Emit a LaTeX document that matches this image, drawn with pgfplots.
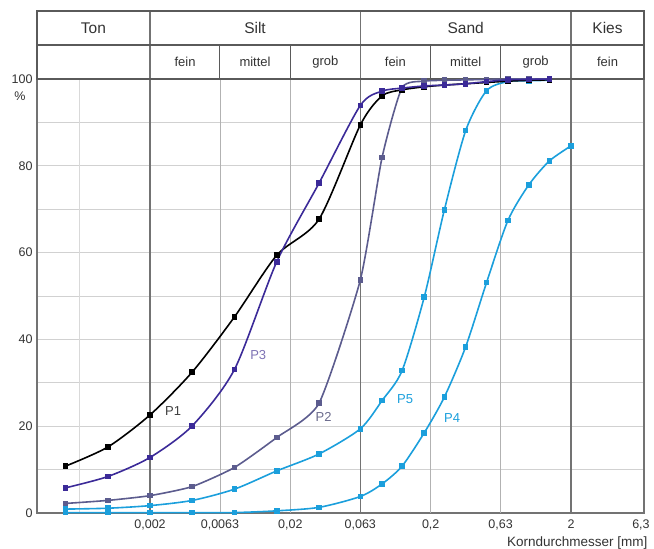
\documentclass[border=0pt]{standalone}
\usepackage{pgfplots}
\pgfplotsset{compat=1.18}
\usepackage{fontspec}
\setmainfont{Liberation Sans}
\definecolor{cPthree}{HTML}{3B2A98}
\definecolor{cPtwo}{HTML}{5C5C8E}
\definecolor{cPblue}{HTML}{1B9FDC}
\definecolor{lPthree}{HTML}{7D72B4}
\definecolor{lPtwo}{HTML}{6A6A8C}
\definecolor{hdr}{HTML}{5A5A5A}
\begin{document}
\begin{tikzpicture}
\begin{axis}[
 scale only axis, width=607pt, height=434pt,
 xmode=log, xmin=0.000313, xmax=6.62, ymin=0, ymax=100,
 xtick={0.002,0.0063,0.02,0.063,0.2,0.63,2,6.3},
 xticklabels={{0,002},{0,0063},{0,02},{0,063},{0,2},{0,63},{2},{6,3}},
 ytick={0,20,...,100},
 minor ytick={10,30,50,70,90},
 minor xtick={},
 major tick length=0pt, minor tick length=0pt,
 ymajorgrids, yminorgrids,
 major grid style={draw=black!18, line width=0.8pt},
 minor grid style={draw=black!18, line width=0.8pt},
 axis line style={draw=black!55, line width=1.3pt},
 tick label style={font=\fontsize{12.5}{14}\selectfont, text=black!80},
 xticklabel style={yshift=-3pt},
 yticklabel style={xshift=-1pt},
 /pgf/number format/assume math mode=true,
 clip=false,
 every axis plot/.append style={line width=1.6pt, mark size=2pt, smooth, tension=0.45},
]
% vertical grid lines
\draw[black!15, line width=0.8pt] (axis cs:0.00063,0) -- (axis cs:0.00063,100);
\pgfplotsinvokeforeach{0.0063,0.02,0.2,0.63}{
  \draw[black!30, line width=0.9pt] (axis cs:#1,0) -- (axis cs:#1,100);
  \draw[hdr, line width=1pt] (axis cs:#1,100) -- (axis cs:#1,107.83);
}
\pgfplotsinvokeforeach{0.002,0.063,2}{
  \draw[black!55, line width=1.1pt] (axis cs:#1,0) -- (axis cs:#1,115.67);
}
% header
\draw[hdr, line width=1.3pt] (axis cs:0.000313,100) rectangle (axis cs:6.62,115.67);
\draw[hdr, line width=1.1pt] (axis cs:0.000313,107.83) -- (axis cs:6.62,107.83);
\draw[hdr, line width=1.3pt] (axis cs:0.000313,100) -- (axis cs:6.62,100);
\begin{scope}[every node/.style={text=black!80, font=\fontsize{15.5}{17}\selectfont}]
\node at (axis cs:0.00079,111.75) {Ton};
\node at (axis cs:0.0112,111.75) {Silt};
\node at (axis cs:0.355,111.75) {Sand};
\node at (axis cs:3.64,111.75) {Kies};
\end{scope}
\begin{scope}[every node/.style={text=black!80, font=\fontsize{13}{15}\selectfont}]
\node at (axis cs:0.00355,103.9) {fein};
\node at (axis cs:0.0112,103.9) {mittel};
\node at (axis cs:0.0355,103.9) {grob};
\node at (axis cs:0.112,103.9) {fein};
\node at (axis cs:0.355,103.9) {mittel};
\node at (axis cs:1.12,103.9) {grob};
\node at (axis cs:3.64,103.9) {fein};
\end{scope}
\node[text=black!80, font=\fontsize{12.5}{14}\selectfont] at ([xshift=-17pt]rel axis cs:0,0.961) {\%};
\node[anchor=east, text=black!80, font=\fontsize{13.5}{15}\selectfont] at ([xshift=7pt,yshift=-30pt]rel axis cs:1,0) {Korndurchmesser [mm]};

\addplot[color=cPblue, mark=square*] coordinates {(0.0005,0.1)(0.001,0.1)(0.002,0.1)(0.004,0.1)(0.008,0.1)(0.016,0.5)(0.032,1.3)(0.063,3.8)(0.09,6.7)(0.125,10.8)(0.18,18.5)(0.25,26.7)(0.355,38.3)(0.5,53.1)(0.71,67.4)(1.0,75.6)(1.4,81.1)(2.0,84.6)};
\addplot[color=cPblue, mark=square*] coordinates {(0.0005,0.9)(0.001,1.1)(0.002,1.7)(0.004,2.9)(0.008,5.5)(0.016,9.7)(0.032,13.6)(0.063,19.4)(0.09,25.9)(0.125,32.8)(0.18,49.8)(0.25,69.8)(0.355,88.1)(0.5,97.3)(0.71,99.4)(1.0,99.6)(1.4,99.7)};
\addplot[color=cPtwo, mark=square*, tension=0.35] coordinates {(0.0005,2.2)(0.001,2.9)(0.002,4.0)(0.004,6.1)(0.008,10.5)(0.016,17.4)(0.032,25.3)(0.063,53.7)(0.09,81.9)(0.125,98.0)(0.18,99.5)(0.25,99.7)(0.355,99.8)(0.5,99.9)(0.71,100)(1.0,100)(1.4,100)};
\addplot[color=black, mark=square*] coordinates {(0.0005,10.8)(0.001,15.2)(0.002,22.6)(0.004,32.5)(0.008,45.2)(0.016,59.4)(0.032,67.7)(0.063,89.4)(0.09,96.1)(0.125,97.5)(0.18,98.2)(0.25,98.6)(0.355,98.9)(0.5,99.2)(0.71,99.5)(1.0,99.7)(1.4,99.8)};
\addplot[color=cPthree, mark=square*] coordinates {(0.0005,5.8)(0.001,8.4)(0.002,12.8)(0.004,20.1)(0.008,33.1)(0.016,57.9)(0.032,76.0)(0.063,93.9)(0.09,97.2)(0.125,97.9)(0.18,98.4)(0.25,98.6)(0.355,98.9)(0.5,99.4)(0.71,99.8)(1.0,99.9)(1.4,100)};

\node[text=black!75, font=\fontsize{13}{15}\selectfont] at (axis cs:0.00292,23.5) {P1};
\node[text=lPthree, font=\fontsize{13}{15}\selectfont] at (axis cs:0.0118,36.3) {P3};
\node[text=lPtwo, font=\fontsize{13}{15}\selectfont] at (axis cs:0.0345,22.1) {P2};
\node[text=cPblue, font=\fontsize{13}{15}\selectfont] at (axis cs:0.1315,26.3) {P5};
\node[text=cPblue, font=\fontsize{13}{15}\selectfont] at (axis cs:0.284,21.9) {P4};
\end{axis}
\pgfresetboundingbox
\path (current axis.south west) ++(-37pt,-36pt) rectangle ++(654pt,549pt);
\end{tikzpicture}
\end{document}
